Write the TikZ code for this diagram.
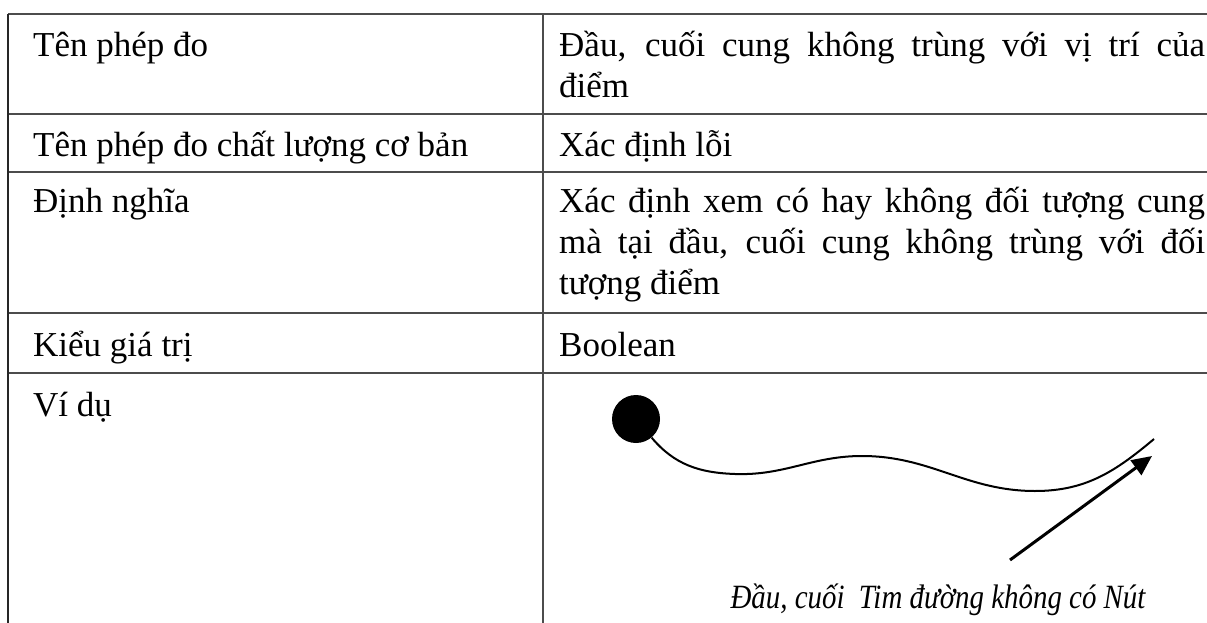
\documentclass[tikz,border=0pt]{standalone}
\usepackage{fontspec}
\setmainfont{Liberation Serif}
\usetikzlibrary{calc,positioning,arrows.meta}

\begin{document}
\begin{tikzpicture}[x=1pt,y=-1pt,
  rule/.style={black!70,line width=1.6pt},
  cell/.style={anchor=base west,inner sep=0pt,font=\fontsize{35}{41}\selectfont},
  cellj/.style={cell,text width=646pt,align=justify}]
\useasboundingbox (0,0) rectangle (1207,623);
\draw[rule] (8,14) -- (1207,14);
\foreach \y in {114,172,313,373} \draw[rule] (8,\y) -- (1207,\y);
\draw[rule,black!85] (8,14) -- (8,623);
\draw[rule] (543,14) -- (543,623);

\node[cell] (ten) at (33,57) {Tên phép đo};
\node[cellj] (tenv) at (559,57) {Đầu, cuối cung không trùng với vị trí của\linebreak điểm};
\node[cell] (loai) at (33,157) {Tên phép đo chất lượng cơ bản};
\node[cellj] (loaiv) at (559,157) {Xác định lỗi};
\node[cell] (dn) at (33,212) {Định nghĩa};
\node[cellj] (dnv) at (559,212) {Xác định xem có hay không đối tượng cung\linebreak mà tại đầu, cuối cung không trùng với đối\linebreak tượng điểm};
\node[cell] (kieu) at (33,356) {Kiểu giá trị};
\node[cellj] (kieuv) at (559,356) {Boolean};
\node[cell] (vd) at (33,416) {Ví dụ};

\node[circle,fill=black,minimum size=48pt,inner sep=0pt] (diem) at (636,419) {};
\coordinate (cuoi) at (1154,439);
\draw[line width=2pt] (diem.-50) to[out=-50,in=178] (735,474) to[out=-2,in=180] (862,456)
  to[out=0,in=180] (1035,491) to[out=0,in=-140] (cuoi);
\coordinate (goc) at (1010,560);
\coordinate (mui) at (1152,456);
\draw[line width=3pt,-{Triangle[length=20pt,width=18pt]}] (goc) -- (mui);
\node[anchor=base,inner sep=0pt,font=\fontsize{34}{40}\selectfont\itshape] (nhan) at (938,608) {\scalebox{0.85}[1]{Đầu, cuối~ Tim đường không có Nút}};
\end{tikzpicture}
\end{document}
